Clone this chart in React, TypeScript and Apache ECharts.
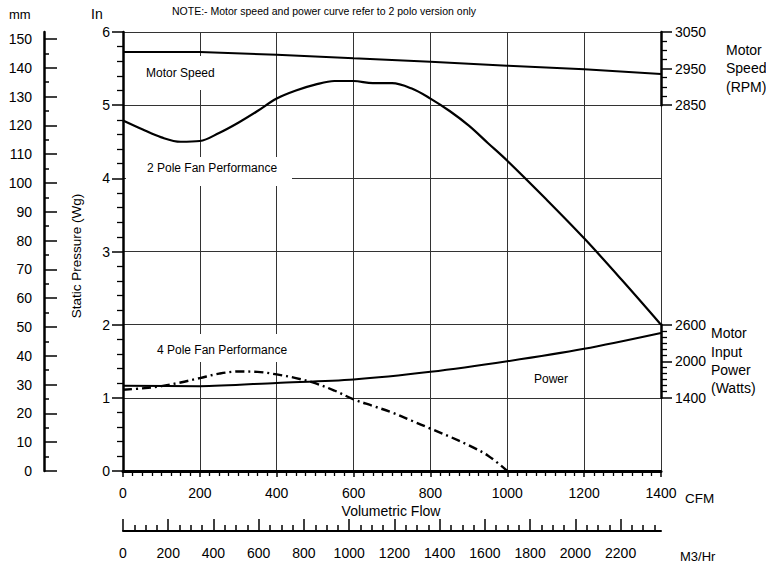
import React, { useEffect, useRef } from "react";
import * as echarts from "echarts";

// ---- data ----
const POLE2_CFM = [0, 50, 100, 150, 200, 250, 300, 350, 400, 450, 500, 550, 600, 650, 700, 750, 800, 850, 900, 950, 1000, 1100, 1200, 1300, 1400];
const POLE2_IN = [4.79, 4.67, 4.56, 4.5, 4.51, 4.62, 4.76, 4.92, 5.09, 5.2, 5.28, 5.33, 5.33, 5.3, 5.3, 5.23, 5.09, 4.92, 4.72, 4.48, 4.24, 3.72, 3.18, 2.6, 2.0];

const POLE4_CFM = [0, 50, 100, 150, 200, 250, 300, 350, 400, 450, 500, 550, 600, 650, 700, 750, 800, 850, 900, 950, 1000];
const POLE4_IN = [1.11, 1.13, 1.16, 1.21, 1.27, 1.33, 1.36, 1.355, 1.32, 1.27, 1.2, 1.1, 0.98, 0.89, 0.8, 0.69, 0.58, 0.47, 0.35, 0.21, 0.0];

const SPEED_CFM = [0, 200, 400, 600, 800, 1000, 1200, 1400];
const SPEED_RPM = [2995, 2995, 2988, 2978, 2969, 2958, 2948, 2935];

const POWER_CFM = [0, 200, 400, 600, 800, 1000, 1200, 1400];
const POWER_W = [1600, 1592, 1645, 1700, 1826, 2000, 2205, 2465];

const MM_MAJOR = [0, 10, 20, 30, 40, 50, 60, 70, 80, 90, 100, 110, 120, 130, 140, 150];
const MM_MINOR = [5, 15, 25, 35, 45, 55, 65, 75, 85, 95, 105, 115, 125, 135, 145];

const M3_MAJOR = [0, 200, 400, 600, 800, 1000, 1200, 1400, 1600, 1800, 2000, 2200];
const M3_MINOR = [50, 100, 150, 250, 300, 350, 450, 500, 550, 650, 700, 750, 850, 900, 950, 1050, 1100, 1150, 1250, 1300, 1350, 1450, 1500, 1550, 1650, 1700, 1750, 1850, 1900, 1950, 2050, 2100, 2150, 2250, 2300, 2350];

const CFM_MAX = 1400;
const M3_PER_CFM = 1.699;
const IN_MAX = 6;
const MM_PER_IN = 25.4;

const FONT = "'Liberation Sans', Arial, Helvetica, sans-serif";

const zip = (xs: number[], ys: number[]) => xs.map((x, i) => [x, ys[i]]);
const plain = (v: number) => String(v);

// ---- layout ----
const L = 123;
const T = 32;
const W = 538;
const H = 439;
const PX_IN = H / IN_MAX;

function txt(x: number, y: number, text: string, size: number, align = "left", extra: any = {}) {
  return {
    type: "text",
    x,
    y,
    z: 10,
    ...extra,
    style: {
      text,
      fill: "#000",
      font: `${size}px ${FONT}`,
      fontSize: size,
      fontFamily: FONT,
      align,
      textAlign: align,
      verticalAlign: "middle",
      textVerticalAlign: "middle",
    },
  };
}

function box(x: number, y: number, w: number, h: number) {
  return { type: "rect", z: 1, shape: { x, y, width: w, height: h }, style: { fill: "#fff" } };
}

const black = "#000";

export default function App() {
  const ref = useRef<HTMLDivElement>(null);

  useEffect(() => {
    if (!ref.current) return;
    const chart = echarts.init(ref.current, null, { renderer: "svg" });

    const tickLabel = { color: black, fontSize: 14, fontFamily: FONT, formatter: plain };

    const option: any = {
      animation: false,
      backgroundColor: "#fff",
      grid: [
        { left: L, top: T, width: W, height: H },
        { left: L, top: T, width: W, height: PX_IN },
        { left: L, top: T + 4 * PX_IN, width: W, height: PX_IN },
        { left: L, top: 519, width: W, height: 12 },
        { left: L, top: 519, width: W, height: 12 },
      ],
      xAxis: [
        {
          gridIndex: 0,
          type: "value",
          min: 0,
          max: CFM_MAX,
          interval: 200,
          axisLine: { onZero: false, lineStyle: { color: black, width: 3 } },
          axisTick: { length: 6, lineStyle: { color: black, width: 1.5 } },
          minorTick: { show: true, splitNumber: 8, length: 5, lineStyle: { color: black, width: 1.3 } },
          axisLabel: { ...tickLabel, margin: 15 },
          splitLine: { show: true, lineStyle: { color: "#333", width: 1 } },
        },
        { gridIndex: 1, type: "value", min: 0, max: CFM_MAX, show: false },
        { gridIndex: 2, type: "value", min: 0, max: CFM_MAX, show: false },
        {
          gridIndex: 3,
          type: "value",
          position: "bottom",
          min: 0,
          max: CFM_MAX * M3_PER_CFM,
          interval: 200,
          axisLine: { onZero: false, lineStyle: { color: black, width: 2 } },
          axisTick: { inside: true, length: 12, customValues: M3_MAJOR, lineStyle: { color: black, width: 1.5 } },
          axisLabel: { ...tickLabel, margin: 15, customValues: M3_MAJOR },
          splitLine: { show: false },
        },
        {
          gridIndex: 4,
          type: "value",
          position: "bottom",
          min: 0,
          max: CFM_MAX * M3_PER_CFM,
          interval: 200,
          axisLine: { show: false, onZero: false },
          axisTick: { inside: true, length: 6, customValues: M3_MINOR, lineStyle: { color: black, width: 1.5 } },
          axisLabel: { show: false },
          splitLine: { show: false },
        },
      ],
      yAxis: [
        {
          gridIndex: 0,
          type: "value",
          position: "left",
          min: 0,
          max: IN_MAX,
          interval: 1,
          axisLine: { onZero: false, lineStyle: { color: black, width: 2.5 } },
          axisTick: { length: 11, lineStyle: { color: black, width: 1.5 } },
          minorTick: { show: true, splitNumber: 5, length: 6, lineStyle: { color: black, width: 1.3 } },
          axisLabel: { ...tickLabel, margin: 13 },
          splitLine: { show: true, lineStyle: { color: "#333", width: 1 } },
        },
        {
          gridIndex: 0,
          type: "value",
          position: "left",
          offset: 79,
          min: 0,
          max: IN_MAX * MM_PER_IN,
          axisLine: { onZero: false, lineStyle: { color: black, width: 2.5 } },
          axisTick: { inside: true, length: 13, customValues: MM_MAJOR, lineStyle: { color: black, width: 1.5 } },
          axisLabel: { ...tickLabel, margin: 12, customValues: MM_MAJOR },
          splitLine: { show: false },
        },
        {
          gridIndex: 0,
          type: "value",
          position: "left",
          offset: 79,
          min: 0,
          max: IN_MAX * MM_PER_IN,
          axisLine: { show: false, onZero: false },
          axisTick: { inside: true, length: 5, customValues: MM_MINOR, lineStyle: { color: black, width: 1.5 } },
          axisLabel: { show: false },
          splitLine: { show: false },
        },
        {
          gridIndex: 1,
          type: "value",
          position: "right",
          min: 2850,
          max: 3050,
          interval: 100,
          axisLine: { onZero: false, lineStyle: { color: black, width: 2.5 } },
          axisTick: { length: 11, lineStyle: { color: black, width: 1.5 } },
          minorTick: { show: true, splitNumber: 4, length: 6, lineStyle: { color: black, width: 1.3 } },
          axisLabel: { ...tickLabel, margin: 14 },
          splitLine: { show: false },
        },
        {
          gridIndex: 2,
          type: "value",
          position: "right",
          min: 1400,
          max: 2600,
          interval: 600,
          axisLine: { onZero: false, lineStyle: { color: black, width: 2.5 } },
          axisTick: { length: 11, lineStyle: { color: black, width: 1.5 } },
          minorTick: { show: true, splitNumber: 6, length: 6, lineStyle: { color: black, width: 1.3 } },
          axisLabel: { ...tickLabel, margin: 14 },
          splitLine: { show: false },
        },
        { gridIndex: 3, type: "value", min: 0, max: 1, show: false },
        { gridIndex: 4, type: "value", min: 0, max: 1, show: false },
      ],
      series: [
        {
          name: "2 Pole Fan Performance",
          type: "line",
          xAxisIndex: 0,
          yAxisIndex: 0,
          data: zip(POLE2_CFM, POLE2_IN),
          smooth: 0.35,
          symbol: "none",
          z: 5,
          lineStyle: { color: black, width: 2.2 },
        },
        {
          name: "4 Pole Fan Performance",
          type: "line",
          xAxisIndex: 0,
          yAxisIndex: 0,
          data: zip(POLE4_CFM, POLE4_IN),
          smooth: 0.35,
          symbol: "none",
          z: 5,
          lineStyle: { color: black, width: 2.4, type: [9, 4, 2, 4] },
        },
        {
          name: "Motor Speed",
          type: "line",
          xAxisIndex: 1,
          yAxisIndex: 3,
          data: zip(SPEED_CFM, SPEED_RPM),
          symbol: "none",
          z: 5,
          lineStyle: { color: black, width: 2 },
        },
        {
          name: "Power",
          type: "line",
          xAxisIndex: 2,
          yAxisIndex: 4,
          data: zip(POWER_CFM, POWER_W),
          smooth: 0.3,
          symbol: "none",
          z: 5,
          lineStyle: { color: black, width: 2 },
        },
      ],
      graphic: [
        // white boxes behind in-plot labels
        box(140, 56, 84, 34),
        box(126, 157, 166, 29),
        box(150, 334, 146, 28),
        // in-plot labels
        txt(146, 73, "Motor Speed", 12),
        txt(147, 168, "2 Pole Fan Performance", 12),
        txt(157, 350, "4 Pole Fan Performance", 12),
        txt(534, 379, "Power", 12),
        // headers
        txt(9, 14, "mm", 13),
        txt(91, 14, "In", 14),
        txt(172, 11, "NOTE:- Motor speed and power curve refer to 2 polo version only", 10.5),
        txt(76, 256, "Static Pressure (Wg)", 13.5, "center", { rotation: Math.PI / 2 }),
        // right side
        txt(726, 50, "Motor", 14),
        txt(726, 68, "Speed", 14),
        txt(726, 87, "(RPM)", 14),
        txt(711, 333, "Motor", 14),
        txt(711, 352, "Input", 14),
        txt(711, 370, "Power", 14),
        txt(711, 388, "(Watts)", 14),
        // bottom
        txt(685, 498, "CFM", 13.5),
        txt(391, 511, "Volumetric Flow", 14, "center"),
        txt(680, 556, "M3/Hr", 13),
      ],
    };

    chart.setOption(option);
    return () => chart.dispose();
  }, []);

  return (
    <div
      ref={ref}
      style={{ position: "fixed", left: 0, top: 0, width: 766, height: 564, background: "#fff" }}
    />
  );
}
